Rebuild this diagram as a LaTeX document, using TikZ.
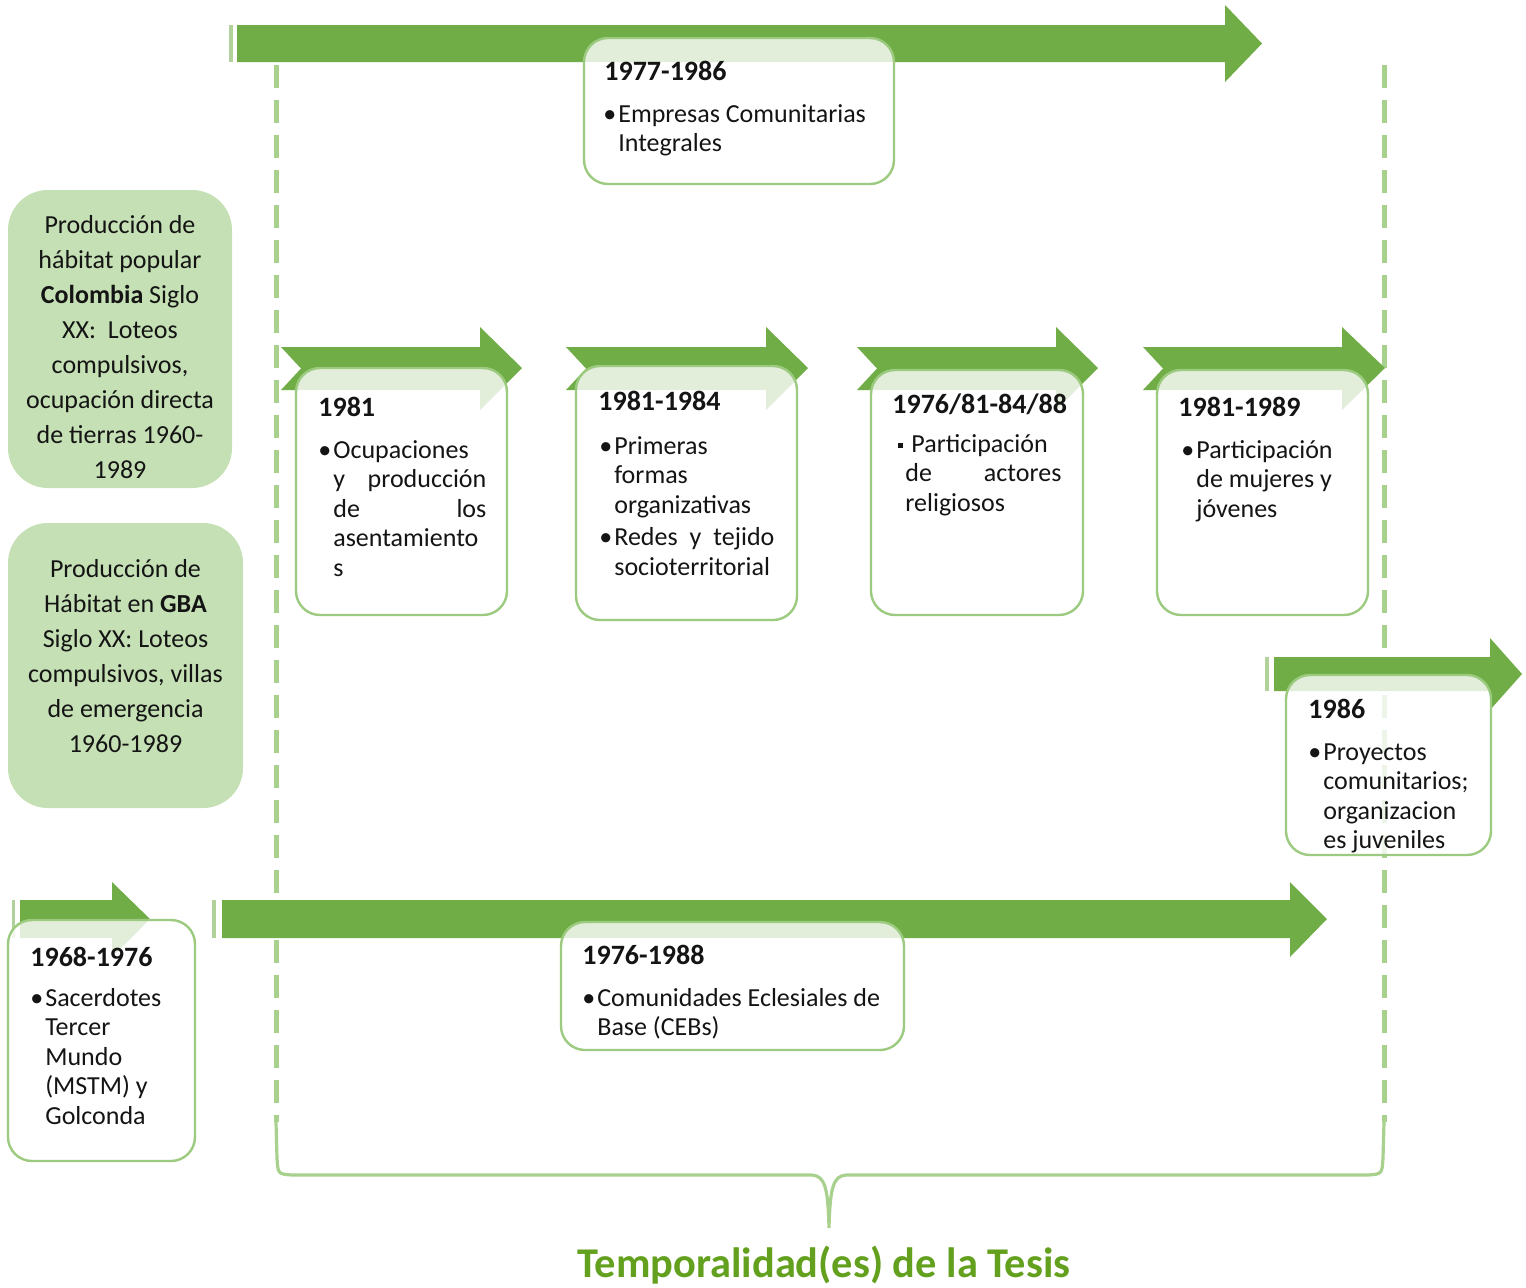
\documentclass[tikz,border=0pt]{standalone}
\usepackage{fontspec}
\setmainfont{Carlito}
\usepackage{array}
\definecolor{arrowgreen}{HTML}{70AD47}
\definecolor{boxline}{HTML}{9CCB80}
\definecolor{dashgreen}{HTML}{A9D18E}
\definecolor{leftfill}{HTML}{C5E0B4}
\definecolor{titlegreen}{HTML}{62A01E}
\definecolor{txt}{HTML}{141414}
\newcommand{\bul}{\textbullet}
\newcommand{\sqb}{\rule[2.2pt]{2.5pt}{2.5pt}}
\tikzset{
  bigarrow/.style={fill=arrowgreen, draw=none},
  stripe/.style={fill=arrowgreen, fill opacity=0.55, draw=none},
  tlbox/.style={draw=boxline, line width=1.2pt, fill=white, fill opacity=0.8, rounded corners=12pt},
  sidebox/.style={fill=leftfill, draw=none, rounded corners=20pt},
  tldash/.style={draw=dashgreen, line width=2.5pt, dash pattern=on 11.5pt off 6pt},
  bracestyle/.style={draw=dashgreen, line width=1.6pt},
  headtxt/.style={anchor=base west, inner sep=0pt, font=\fontsize{14}{16}\selectfont\bfseries, text=txt},
  bodytxt/.style={anchor=base west, inner sep=0pt, font=\fontsize{13}{14.75}\selectfont, text=txt},
  sidetext/.style={align=center, inner sep=0pt, font=\fontsize{13}{17.5}\selectfont, text=txt},
}
\begin{document}
\begin{tikzpicture}[x=0.5pt,y=-0.5pt]
\useasboundingbox (0,0) rectangle (1526,1287);

% dashed time limits
\draw[tldash] (276,65) -- (276,1122);
\draw[tldash] (1384,65) -- (1384,1122);
% brace
\draw[bracestyle] (276,1122) -- (277,1158) .. controls (278,1174) .. (292,1175)
  -- (812,1175) .. controls (825,1176) and (828,1188) .. (829,1228)
  .. controls (830,1188) and (833,1176) .. (846,1175)
  -- (1368,1175) .. controls (1382,1174) .. (1383,1158) -- (1384,1122);

% left side boxes
\fill[sidebox] (8,190) rectangle (232,488);
\fill[sidebox] (8,523) rectangle (243,808);
\node[sidetext] (colombia) at (120,347) {Producción de\\hábitat popular\\\textbf{Colombia} Siglo\\XX:~ Loteos\\compulsivos,\\ocupación directa\\de tierras 1960-\\1989};
\node[sidetext] (gba) at (125.5,656) {Producción de\\Hábitat en \textbf{GBA}\\Siglo XX: Loteos\\compulsivos, villas\\de emergencia\\1960-1989};

% long arrows
\fill[stripe] (229,25) rectangle (233,62);
\fill[bigarrow] (237,25) -- (1225,25) -- (1225,5) -- (1262,43.5) -- (1225,82) -- (1225,62) -- (237,62) -- cycle;
\fill[stripe] (212,900) rectangle (216,938);
\fill[bigarrow] (222,900) -- (1290,900) -- (1290,882) -- (1327,919) -- (1290,957) -- (1290,938) -- (222,938) -- cycle;
\fill[stripe] (1265,657) rectangle (1269,691);
\fill[bigarrow] (1274,657) -- (1490,657) -- (1490,638) -- (1522,674) -- (1490,710) -- (1490,691) -- (1274,691) -- cycle;
\fill[stripe] (12,900) rectangle (15,938);
\fill[bigarrow] (20,900) -- (112,900) -- (112,882) -- (150,919) -- (112,957) -- (112,938) -- (20,938) -- cycle;

% chevron arrows
\foreach \xl/\xb/\xt in {281/480/522, 566/766/808, 857/1056/1098, 1143/1342/1385}{
  \fill[bigarrow] (\xl,347) -- (\xb,347) -- (\xb,327) -- (\xt,368) -- (\xb,410) -- (\xb,390) -- (\xl,390) -- ({\xl+20},368.5) -- cycle;
}

% boxes
\draw[tlbox] (584,38) rectangle (894,184);
\draw[tlbox] (296,368) rectangle (507,615);
\draw[tlbox] (576,366) rectangle (797,620);
\draw[tlbox] (871,370) rectangle (1083,615);
\draw[tlbox] (1157,370) rectangle (1368,615);
\draw[tlbox] (1286,675) rectangle (1491,855);
\draw[tlbox] (561,922) rectangle (904,1050);
\draw[tlbox] (8,920) rectangle (195,1161);

% headings
\node[headtxt] (h0) at (604,80) {1977-1986};
\node[headtxt] (h1) at (318,416) {1981};
\node[headtxt] (h2) at (598,410) {1981-1984};
\node[headtxt] (h3) at (892,413) {1976/81-84/88};
\node[headtxt] (h4) at (1178,416) {1981-1989};
\node[headtxt] (h5) at (1308,718) {1986};
\node[headtxt] (h6) at (582,964) {1976-1988};
\node[headtxt] (h7) at (30,966) {1968-1976};

% bodies
\node[bodytxt] (b0) at (603,122) {\begin{tabular}[t]{@{}l@{\hspace{1pt}}l@{}}
\bul & Empresas Comunitarias\\
& Integrales
\end{tabular}};
\node[bodytxt] (b1) at (318,458) {\begin{tabular}[t]{@{}l@{\hspace{1pt}}l@{}}
\bul & Ocupaciones\\
& \makebox[76.5pt][s]{y producción}\\
& \makebox[76.5pt][s]{de los}\\
& asentamiento\\
& s
\end{tabular}};
\node[bodytxt] (b2) at (599,454) {\begin{tabular}[t]{@{}l@{\hspace{1pt}}l@{}}
\bul & Primeras\\
& formas\\
& organizativas\\[1.5pt]
\bul & \makebox[80pt][s]{Redes y tejido}\\
& socioterritorial
\end{tabular}};
\node[bodytxt] (b3) at (898,452) {\begin{tabular}[t]{@{}l@{\hspace{1pt}}l@{}}
\sqb & \hspace{3pt}Participación\\
& \makebox[78pt][s]{de actores}\\
& religiosos
\end{tabular}};
\node[bodytxt] (b4) at (1181,458) {\begin{tabular}[t]{@{}l@{\hspace{1pt}}l@{}}
\bul & Participación\\
& de mujeres y\\
& jóvenes
\end{tabular}};
\node[bodytxt] (b5) at (1308,760) {\begin{tabular}[t]{@{}l@{\hspace{1pt}}l@{}}
\bul & Proyectos\\
& comunitarios;\\
& organizacion\\
& es juveniles
\end{tabular}};
\node[bodytxt] (b6) at (582,1006) {\begin{tabular}[t]{@{}l@{\hspace{1pt}}l@{}}
\bul & Comunidades Eclesiales de\\
& Base (CEBs)
\end{tabular}};
\node[bodytxt] (b7) at (30,1006) {\begin{tabular}[t]{@{}l@{\hspace{1pt}}l@{}}
\bul & Sacerdotes\\
& Tercer\\
& Mundo\\
& (MSTM) y\\
& Golconda
\end{tabular}};

% title
\node[font=\fontsize{21.2}{24}\selectfont\bfseries, text=titlegreen, inner sep=0pt] (title) at (824,1265) {Temporalidad(es) de la Tesis};
\end{tikzpicture}
\end{document}
